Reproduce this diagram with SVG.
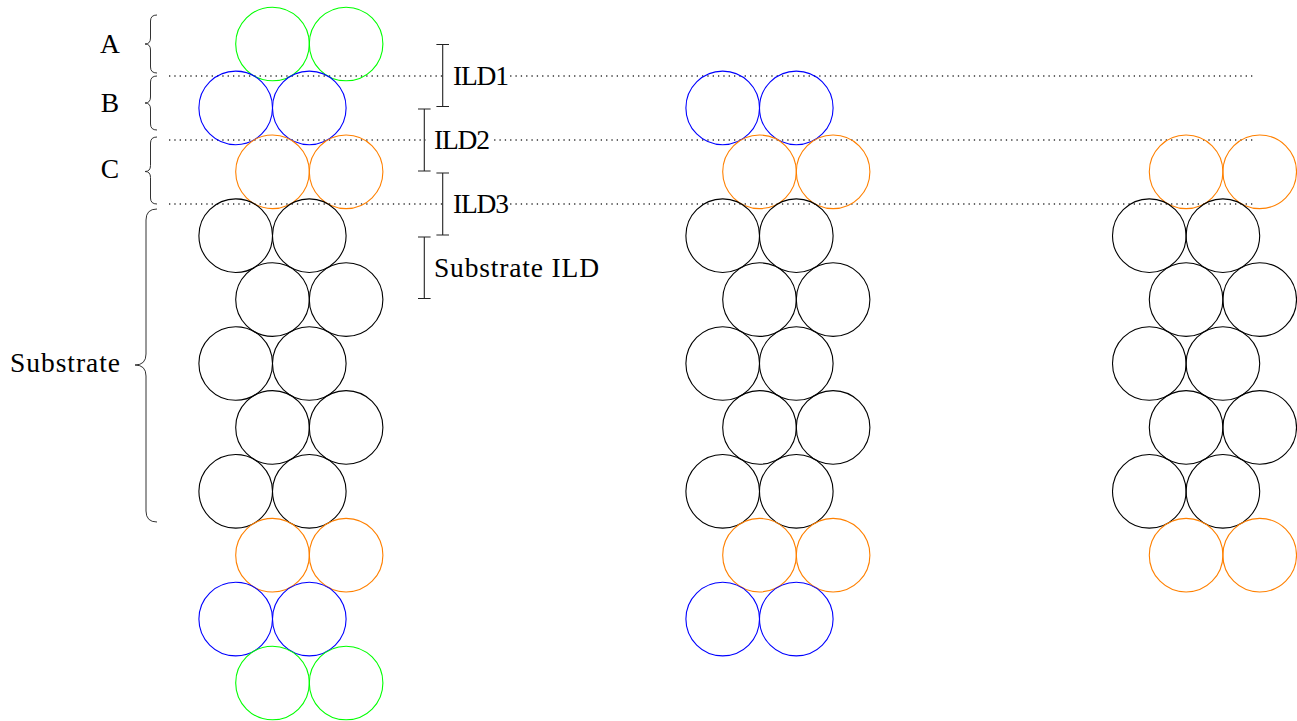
<svg xmlns="http://www.w3.org/2000/svg" width="1297" height="721" viewBox="0 0 1297 721">
<style>
.c{fill:none;stroke-width:1.1}
.g{stroke:#00ff00}.b{stroke:#0000ff}.o{stroke:#ff8000}.k{stroke:#000}
.dot{stroke:#333;stroke-width:1.4;stroke-dasharray:1.3 4.03;fill:none}
.br{fill:none;stroke:#333;stroke-width:1}
.bar{fill:none;stroke:#222;stroke-width:1.1}
.bg{fill:#fff;stroke:none}
text{font-family:"Liberation Serif","Times New Roman",serif;font-size:27.5px;fill:#000}
</style>
<g id="layers">
<line class="dot" x1="169" y1="76" x2="1256" y2="76"/>
<line class="dot" x1="169" y1="140" x2="1256" y2="140"/>
<line class="dot" x1="169" y1="204" x2="1256" y2="204"/>
</g>
<g id="col1">
<circle class="c g" cx="272.5" cy="44" r="36.8"/><circle class="c g" cx="346.1" cy="44" r="36.8"/>
<circle class="c b" cx="235.7" cy="107.9" r="36.8"/><circle class="c b" cx="309.3" cy="107.9" r="36.8"/>
<circle class="c o" cx="272.5" cy="171.8" r="36.8"/><circle class="c o" cx="346.1" cy="171.8" r="36.8"/>
<circle class="c k" cx="235.7" cy="235.7" r="36.8"/><circle class="c k" cx="309.3" cy="235.7" r="36.8"/>
<circle class="c k" cx="272.5" cy="299.6" r="36.8"/><circle class="c k" cx="346.1" cy="299.6" r="36.8"/>
<circle class="c k" cx="235.7" cy="363.5" r="36.8"/><circle class="c k" cx="309.3" cy="363.5" r="36.8"/>
<circle class="c k" cx="272.5" cy="427.4" r="36.8"/><circle class="c k" cx="346.1" cy="427.4" r="36.8"/>
<circle class="c k" cx="235.7" cy="491.3" r="36.8"/><circle class="c k" cx="309.3" cy="491.3" r="36.8"/>
<circle class="c o" cx="272.5" cy="555.2" r="36.8"/><circle class="c o" cx="346.1" cy="555.2" r="36.8"/>
<circle class="c b" cx="235.7" cy="619.1" r="36.8"/><circle class="c b" cx="309.3" cy="619.1" r="36.8"/>
<circle class="c g" cx="272.5" cy="683" r="36.8"/><circle class="c g" cx="346.1" cy="683" r="36.8"/>
</g>
<g id="col2">
<circle class="c b" cx="722.7" cy="107.9" r="36.8"/><circle class="c b" cx="796.3" cy="107.9" r="36.8"/>
<circle class="c o" cx="759.5" cy="171.8" r="36.8"/><circle class="c o" cx="833.1" cy="171.8" r="36.8"/>
<circle class="c k" cx="722.7" cy="235.7" r="36.8"/><circle class="c k" cx="796.3" cy="235.7" r="36.8"/>
<circle class="c k" cx="759.5" cy="299.6" r="36.8"/><circle class="c k" cx="833.1" cy="299.6" r="36.8"/>
<circle class="c k" cx="722.7" cy="363.5" r="36.8"/><circle class="c k" cx="796.3" cy="363.5" r="36.8"/>
<circle class="c k" cx="759.5" cy="427.4" r="36.8"/><circle class="c k" cx="833.1" cy="427.4" r="36.8"/>
<circle class="c k" cx="722.7" cy="491.3" r="36.8"/><circle class="c k" cx="796.3" cy="491.3" r="36.8"/>
<circle class="c o" cx="759.5" cy="555.2" r="36.8"/><circle class="c o" cx="833.1" cy="555.2" r="36.8"/>
<circle class="c b" cx="722.7" cy="619.1" r="36.8"/><circle class="c b" cx="796.3" cy="619.1" r="36.8"/>
</g>
<g id="col3">
<circle class="c o" cx="1186.1" cy="171.8" r="36.8"/><circle class="c o" cx="1259.7" cy="171.8" r="36.8"/>
<circle class="c k" cx="1149.3" cy="235.7" r="36.8"/><circle class="c k" cx="1222.9" cy="235.7" r="36.8"/>
<circle class="c k" cx="1186.1" cy="299.6" r="36.8"/><circle class="c k" cx="1259.7" cy="299.6" r="36.8"/>
<circle class="c k" cx="1149.3" cy="363.5" r="36.8"/><circle class="c k" cx="1222.9" cy="363.5" r="36.8"/>
<circle class="c k" cx="1186.1" cy="427.4" r="36.8"/><circle class="c k" cx="1259.7" cy="427.4" r="36.8"/>
<circle class="c k" cx="1149.3" cy="491.3" r="36.8"/><circle class="c k" cx="1222.9" cy="491.3" r="36.8"/>
<circle class="c o" cx="1186.1" cy="555.2" r="36.8"/><circle class="c o" cx="1259.7" cy="555.2" r="36.8"/>
</g>
<g id="braces">
<path class="br" d="M157,15 Q150.5,15 150.5,21 L150.5,38 Q150.5,44 145,44 Q150.5,44 150.5,50 L150.5,67 Q150.5,73 157,73"/>
<path class="br" d="M157,76 Q150.5,76 150.5,82 L150.5,97 Q150.5,103 145,103 Q150.5,103 150.5,109 L150.5,124 Q150.5,130 157,130"/>
<path class="br" d="M157,137 Q150.5,137 150.5,143 L150.5,165.5 Q150.5,171.5 145,171.5 Q150.5,171.5 150.5,177.5 L150.5,198 Q150.5,204 157,204"/>
<path class="br" d="M157,209 Q146,209 146,220 L146,354 Q146,365 135,365 Q146,365 146,376 L146,511 Q146,522 157,522"/>
</g>
<g id="labels">
<text x="110" y="53" text-anchor="middle">A</text>
<text x="110" y="112" text-anchor="middle">B</text>
<text x="110" y="177.5" text-anchor="middle">C</text>
<text x="10" y="372" textLength="110" lengthAdjust="spacing">Substrate</text>
</g>
<g id="ild">
<rect class="bg" x="444" y="66" width="66" height="22"/>
<rect class="bg" x="425.5" y="130" width="66" height="22"/>
<rect class="bg" x="444" y="194" width="66" height="22"/>
<path class="bar" d="M442.7,44.5 V106.5 M436.4,44.5 H449 M436.4,106.5 H449"/>
<path class="bar" d="M424.3,109 V171 M418,109 H430.6 M418,171 H430.6"/>
<path class="bar" d="M442.7,173 V235 M436.4,173 H449 M436.4,235 H449"/>
<path class="bar" d="M424.3,237 V298.5 M418,237 H430.6 M418,298.5 H430.6"/>
<text x="453" y="85" textLength="56" lengthAdjust="spacing">ILD1</text>
<text x="434" y="149" textLength="56" lengthAdjust="spacing">ILD2</text>
<text x="453" y="213" textLength="56" lengthAdjust="spacing">ILD3</text>
<text x="434" y="277" textLength="165" lengthAdjust="spacing">Substrate ILD</text>
</g>
</svg>
